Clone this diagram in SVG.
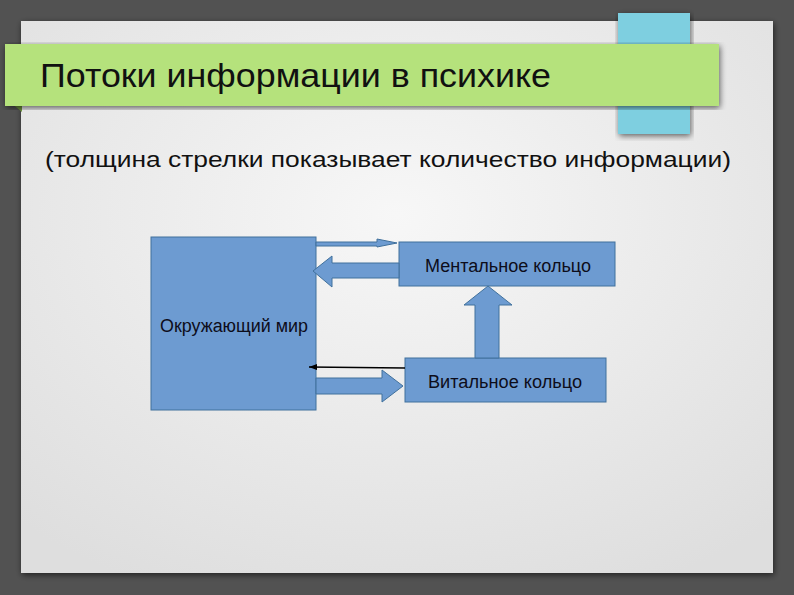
<svg xmlns="http://www.w3.org/2000/svg" width="794" height="595" viewBox="0 0 794 595">
<defs>
<radialGradient id="pg" cx="0.5" cy="0.35" r="0.75">
<stop offset="0" stop-color="#f7f7f7"/>
<stop offset="1" stop-color="#dedede"/>
</radialGradient>
<filter id="sh" x="-5%" y="-5%" width="110%" height="110%">
<feGaussianBlur in="SourceAlpha" stdDeviation="3"/>
<feOffset dx="1" dy="2"/>
<feComponentTransfer><feFuncA type="linear" slope="0.6"/></feComponentTransfer>
<feMerge><feMergeNode/><feMergeNode in="SourceGraphic"/></feMerge>
</filter>
<marker id="ah" markerWidth="9" markerHeight="6" refX="8" refY="3" orient="auto" markerUnits="userSpaceOnUse">
<path d="M0,0 L8,3 L0,6 Z" fill="#000"/>
</marker>
<style>
.box{fill:#6d9bd1;stroke:#41719c;stroke-width:1}
.arr{fill:#6d9bd1;stroke:#41719c;stroke-width:1;stroke-linejoin:miter}
.lbl{font-family:"Liberation Sans",Arial,sans-serif;font-size:18px;fill:#0d0d1a}
</style>
</defs>
<rect width="794" height="595" fill="#525252"/>
<rect x="21" y="21" width="752" height="552" fill="url(#pg)" filter="url(#sh)"/>
<rect x="618" y="13" width="72" height="121" fill="#7ecfe0" filter="url(#sh)"/>
<polygon points="5,98 22,98 22,112" fill="#6a8f3c"/>
<rect x="5" y="44" width="714" height="62" fill="#b5e27b" filter="url(#sh)"/>
<text x="40" y="87" font-family="'Liberation Sans',Arial,sans-serif" font-size="34" fill="#111" textLength="511" lengthAdjust="spacingAndGlyphs">Потоки информации в психике</text>
<text x="45" y="167" font-family="'Liberation Sans',Arial,sans-serif" font-size="22" fill="#111" textLength="686" lengthAdjust="spacingAndGlyphs">(толщина стрелки показывает количество информации)</text>

<g id="world">
<rect class="box" x="151" y="237" width="165" height="173"/>
<text class="lbl" x="160" y="332" textLength="148" lengthAdjust="spacingAndGlyphs">Окружающий мир</text>
</g>
<g id="mental">
<rect class="box" x="399" y="242" width="216" height="44"/>
<text class="lbl" x="425" y="272" textLength="166" lengthAdjust="spacingAndGlyphs">Ментальное кольцо</text>
</g>
<g id="vital">
<rect class="box" x="405" y="358" width="201" height="44"/>
<text class="lbl" x="428" y="388" textLength="154" lengthAdjust="spacingAndGlyphs">Витальное кольцо</text>
</g>

<g id="connectors">
<polygon class="arr" points="316,242 377,242 377,239 397,243 377,247 377,246 316,246"/>
<polygon class="arr" points="399,263 332,263 332,256 313,271 332,287 332,278 399,278"/>
<polygon class="arr" points="475,358 475,305 464,305 488,286 512,305 499,305 499,358"/>
<line x1="405" y1="368" x2="309" y2="367" stroke="#000" stroke-width="1.5" marker-end="url(#ah)"/>
<polygon class="arr" points="316,378 382,378 382,370 403,386 382,402 382,394 316,394"/>
</g>
</svg>
